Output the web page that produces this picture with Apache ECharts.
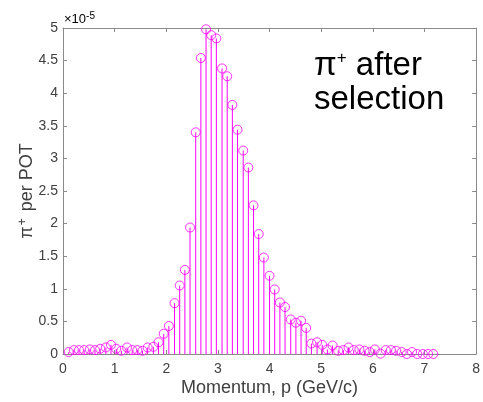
<!DOCTYPE html>
<html>
<head>
<meta charset="utf-8">
<script src="https://cdn.jsdelivr.net/npm/echarts@6/dist/echarts.min.js"></script>
<style>
html,body{margin:0;padding:0;background:#fff;}
#chart{width:483px;height:402px;}
</style>
</head>
<body>
<div id="chart"></div>
<script>
// Momentum bin positions (GeV/c)
const momentum = [0.11,0.21,0.31,0.41,0.52,0.62,0.72,0.83,0.93,1.03,
  1.13,1.24,1.34,1.44,1.54,1.64,1.75,1.85,1.95,2.05,
  2.16,2.26,2.36,2.46,2.57,2.67,2.77,2.87,2.97,3.08,
  3.18,3.28,3.38,3.49,3.59,3.69,3.79,3.89,4.00,4.10,
  4.20,4.30,4.41,4.51,4.61,4.71,4.81,4.92,5.02,5.12,
  5.22,5.33,5.43,5.53,5.63,5.74,5.84,5.94,6.04,6.15,
  6.25,6.35,6.45,6.56,6.66,6.76,6.86,6.97,7.07,7.17];
// pi+ per POT, in units of 1e-5
const piPerPOT = [0.03,0.06,0.06,0.06,0.07,0.06,0.08,0.10,0.14,0.08,
  0.05,0.10,0.06,0.06,0.05,0.10,0.11,0.18,0.31,0.43,
  0.78,1.05,1.29,1.94,3.40,4.54,4.98,4.89,4.84,4.38,
  4.26,3.82,3.44,3.12,2.86,2.28,1.84,1.48,1.20,0.99,
  0.79,0.72,0.53,0.48,0.51,0.40,0.16,0.18,0.14,0.07,
  0.13,0.05,0.06,0.10,0.06,0.07,0.05,0.03,0.07,0.005,
  0.06,0.06,0.05,0.03,0.00,0.03,0.00,0.00,0.00,0.00];
const xTicks = [0,1,2,3,4,5,6,7,8];
const yTicks = [0,0.5,1,1.5,2,2.5,3,3.5,4,4.5,5];

const pts = momentum.map((m,i)=>[m, piPerPOT[i]]);
const MAG = '#ff00ff';
const AX = '#8a8a8a';
const LBL = '#404040';
const FONT = '"Liberation Sans", Arial, sans-serif';

const chart = echarts.init(document.getElementById('chart'));
chart.setOption({
  animation:false,
  backgroundColor:'#fff',
  grid:{left:63, right:2, top:28, bottom:48, containLabel:false},
  xAxis:[{
    type:'value', min:xTicks[0], max:xTicks[xTicks.length-1], interval:1,
    name:'Momentum, p (GeV/c)', nameLocation:'middle', nameGap:25, nameMoveOverlap:false,
    nameTextStyle:{fontFamily:FONT, fontSize:18, color:LBL},
    axisLine:{show:true, onZero:false, lineStyle:{color:AX, width:1}},
    axisTick:{show:true, inside:true, length:4, lineStyle:{color:AX}},
    axisLabel:{fontFamily:FONT, fontSize:14, color:LBL, margin:8},
    splitLine:{show:false}
  },{
    type:'value', position:'top', min:xTicks[0], max:xTicks[xTicks.length-1], interval:1,
    axisLine:{show:true, onZero:false, lineStyle:{color:AX, width:1}},
    axisTick:{show:true, inside:true, length:4, lineStyle:{color:AX}},
    axisLabel:{show:false}, splitLine:{show:false}
  }],
  yAxis:[{
    type:'value', min:yTicks[0], max:yTicks[yTicks.length-1], interval:0.5,
    name:'{a|π}{s|+}{a| per POT}', nameLocation:'middle', nameGap:25, nameRotate:90, nameMoveOverlap:false,
    nameTextStyle:{rich:{
      a:{fontFamily:FONT, fontSize:18, color:LBL},
      s:{fontFamily:FONT, fontSize:12, color:LBL, padding:[0,2,9,1]}
    }},
    axisLine:{show:true, onZero:false, lineStyle:{color:AX, width:1}},
    axisTick:{show:true, inside:true, length:4, lineStyle:{color:AX}},
    axisLabel:{fontFamily:FONT, fontSize:14, color:LBL, margin:5},
    splitLine:{show:false}
  },{
    type:'value', position:'right', min:yTicks[0], max:yTicks[yTicks.length-1], interval:0.5,
    axisLine:{show:true, onZero:false, lineStyle:{color:AX, width:1}},
    axisTick:{show:true, inside:true, length:4, lineStyle:{color:AX}},
    axisLabel:{show:false}, splitLine:{show:false}
  }],
  series:[{
    type:'custom',
    xAxisIndex:0, yAxisIndex:0,
    data:pts,
    encode:{x:0, y:1},
    silent:true,
    renderItem:function(params, api){
      const p0 = api.coord([api.value(0), 0]);
      const p1 = api.coord([api.value(0), api.value(1)]);
      return {type:'line', shape:{x1:p0[0], y1:p0[1], x2:p1[0], y2:p1[1]},
        style:{stroke:MAG, lineWidth:1}};
    },
    z:2
  },{
    type:'scatter',
    xAxisIndex:0, yAxisIndex:0,
    data:pts,
    symbol:'circle', symbolSize:9,
    itemStyle:{color:'rgba(0,0,0,0)', borderColor:MAG, borderWidth:1},
    silent:true,
    z:3
  }],
  graphic:[{
    type:'text', left:64, top:11,
    style:{
      text:'{a|×10}{b|-5}',
      rich:{
        a:{fontFamily:FONT, fontSize:13, color:LBL},
        b:{fontFamily:FONT, fontSize:10, color:LBL, padding:[0,0,7,0]}
      }
    }
  },{
    type:'text', left:314, top:49,
    style:{
      text:'{p|π}{s|+}{p| after}\n{p|selection}',
      rich:{
        p:{fontFamily:FONT, fontSize:33, color:'#000', lineHeight:34},
        s:{fontFamily:FONT, fontSize:17, color:'#000', padding:[0,0,14,0]}
      }
    }
  }]
});
</script>
</body>
</html>
